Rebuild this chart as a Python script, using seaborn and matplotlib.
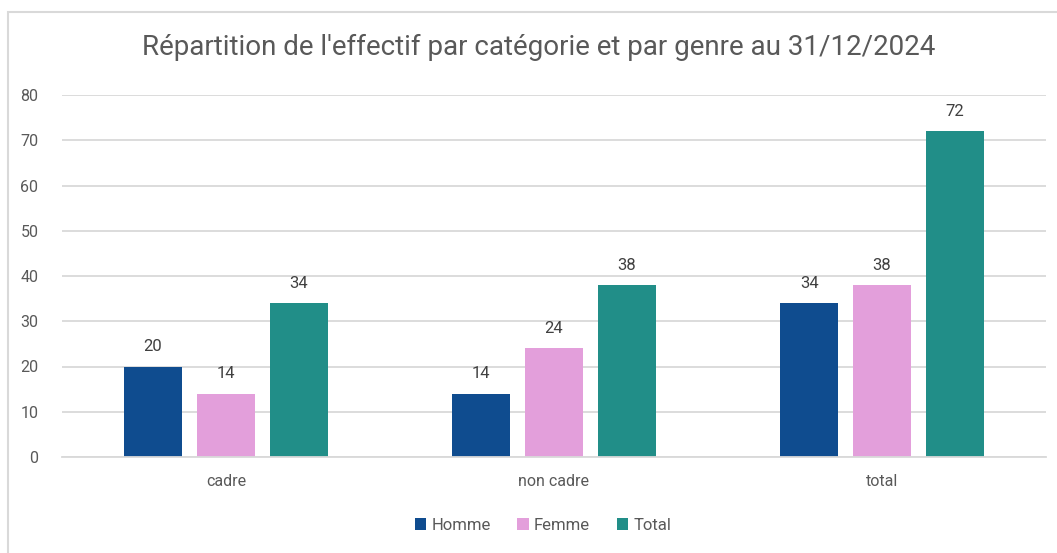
import pandas as pd
import seaborn as sns
from matplotlib import pyplot as plt
from matplotlib.patches import Rectangle

categories = ["cadre", "non cadre", "total"]
homme = [20, 14, 34]
femme = [14, 24, 38]
total = [34, 38, 72]
series_names = ["Homme", "Femme", "Total"]
palette = ["#0F4C8F", "#E39FDB", "#218E88"]

df = pd.DataFrame({
    "categorie": categories * 3,
    "genre": [s for s in series_names for _ in categories],
    "effectif": homme + femme + total,
})

sns.set_theme(style="white")
plt.rcParams["font.family"] = ["Roboto", "DejaVu Sans"]

fig = plt.figure(figsize=(10.57, 5.53), dpi=100)
ax = fig.add_axes([62 / 1057, 1 - 457 / 553, 984 / 1057, 362 / 553])

# cadre gris du graphique
fig.patches.append(Rectangle((8 / 1057, -0.1), 1.2, 1 - 12 / 553 + 0.1,
                             transform=fig.transFigure, fill=False,
                             edgecolor="#D9D9D9", linewidth=1.5))

sns.barplot(data=df, x="categorie", y="effectif", hue="genre",
            palette=palette, saturation=1, width=0.667, gap=0.2, ax=ax, linewidth=0)

for cont in ax.containers:
    ax.bar_label(cont, padding=9, fontsize=12, color="#404040")

ax.set_ylim(0, 80)
ax.set_xlim(-0.5, 2.5)
ax.set_yticks(range(0, 81, 10))
ax.yaxis.grid(True, color="#D9D9D9", linewidth=1.3)
ax.set_axisbelow(True)
sns.despine(ax=ax, left=True, top=True, right=True)
ax.spines["bottom"].set_color("#D9D9D9")
ax.spines["bottom"].set_linewidth(1.3)
ax.tick_params(axis="y", length=0, pad=17, labelsize=11.5, labelcolor="#595959")
ax.tick_params(axis="x", length=0, pad=12, labelsize=11.5, labelcolor="#595959")
ax.set_xlabel("")
ax.set_ylabel("")

fig.text(539 / 1057, 1 - 47 / 553, "Répartition de l'effectif par catégorie et par genre au 31/12/2024",
         ha="center", va="center", fontsize=20, color="#595959")

handles, labels = ax.get_legend_handles_labels()
ax.legend_.remove()
fig.legend(handles, labels, loc="center", bbox_to_anchor=(543 / 1057, 1 - 525 / 553),
           ncol=3, frameon=False, fontsize=12, labelcolor="#595959",
           handlelength=0.7, handleheight=0.7, handletextpad=0.3, columnspacing=1.6)

plt.savefig("out.png", dpi=100)
